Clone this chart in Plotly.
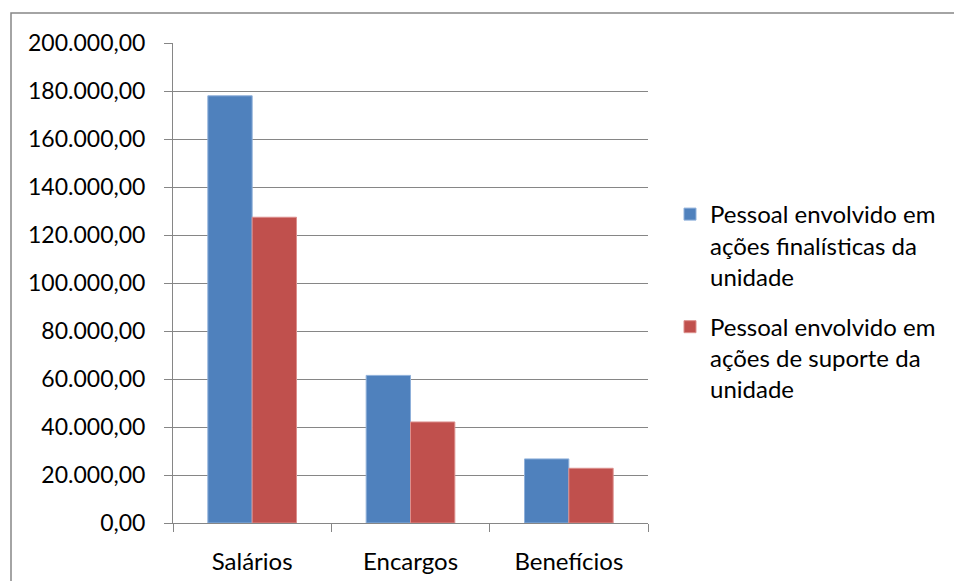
import plotly.graph_objects as go

categories = ["Salários", "Encargos", "Benefícios"]
finalisticas = [178000, 61500, 26700]
suporte = [127400, 42100, 22800]
series_names = [
    "Pessoal envolvido em<br>ações finalísticas da<br>unidade",
    "Pessoal envolvido em<br>ações de suporte da<br>unidade",
]
y_ticks = [0, 20000, 40000, 60000, 80000, 100000, 120000, 140000, 160000, 180000, 200000]
y_tick_labels = ["0,00", "20.000,00", "40.000,00", "60.000,00", "80.000,00", "100.000,00",
                 "120.000,00", "140.000,00", "160.000,00", "180.000,00", "200.000,00"]

FONT = "Lato"
W, H = 954, 581
L, R, T, B = 173, 648, 43, 523

fig = go.Figure()
fig.add_trace(go.Bar(x=categories, y=finalisticas, name=series_names[0], legendgroup="a",
                     marker=dict(color="#4F81BD", line=dict(color="#8FB0DA", width=1))))
fig.add_trace(go.Bar(x=categories, y=suporte, name=series_names[1], legendgroup="b",
                     marker=dict(color="#C0504D", line=dict(color="#DC8F8D", width=1))))

fig.update_layout(
    width=W, height=H,
    margin=dict(l=L, r=W - R, t=T, b=H - B, pad=0, autoexpand=False),
    paper_bgcolor="white", plot_bgcolor="white",
    barmode="group", bargap=0.44, bargroupgap=0,
    font=dict(family=FONT, size=24, color="black"),
    showlegend=True,
    legend=dict(x=(670 - L) / (R - L), xanchor="left",
                y=(B - 192) / (B - T), yanchor="top",
                valign="top",
                font=dict(family=FONT, size=24, color="black"),
                tracegroupgap=16, itemwidth=30, bgcolor="rgba(0,0,0,0)"),
    xaxis=dict(type="category", showgrid=False, showline=True, linecolor="#868686", linewidth=1,
               ticks="outside", ticklen=8, tickcolor="#868686", tickson="boundaries",
               tickfont=dict(family=FONT, size=24), ticklabelstandoff=17, automargin=False),
    yaxis=dict(range=[0, 200000], tickmode="array", tickvals=y_ticks, ticktext=y_tick_labels,
               showgrid=True, gridcolor="#868686", gridwidth=1, showline=True,
               linecolor="#868686", linewidth=1, ticks="outside", ticklen=8,
               tickcolor="#868686", tickfont=dict(family=FONT, size=23),
               ticklabelstandoff=14, zeroline=False, automargin=False),
    shapes=[dict(type="rect", xref="paper", yref="paper",
                 x0=(11 - L) / (R - L), x1=(W + 20 - L) / (R - L),
                 y0=(B - (H + 20)) / (B - T), y1=(B - 13) / (B - T),
                 line=dict(color="#868686", width=1.5), fillcolor="rgba(0,0,0,0)", layer="below")],
)

fig.write_html("out.html")
